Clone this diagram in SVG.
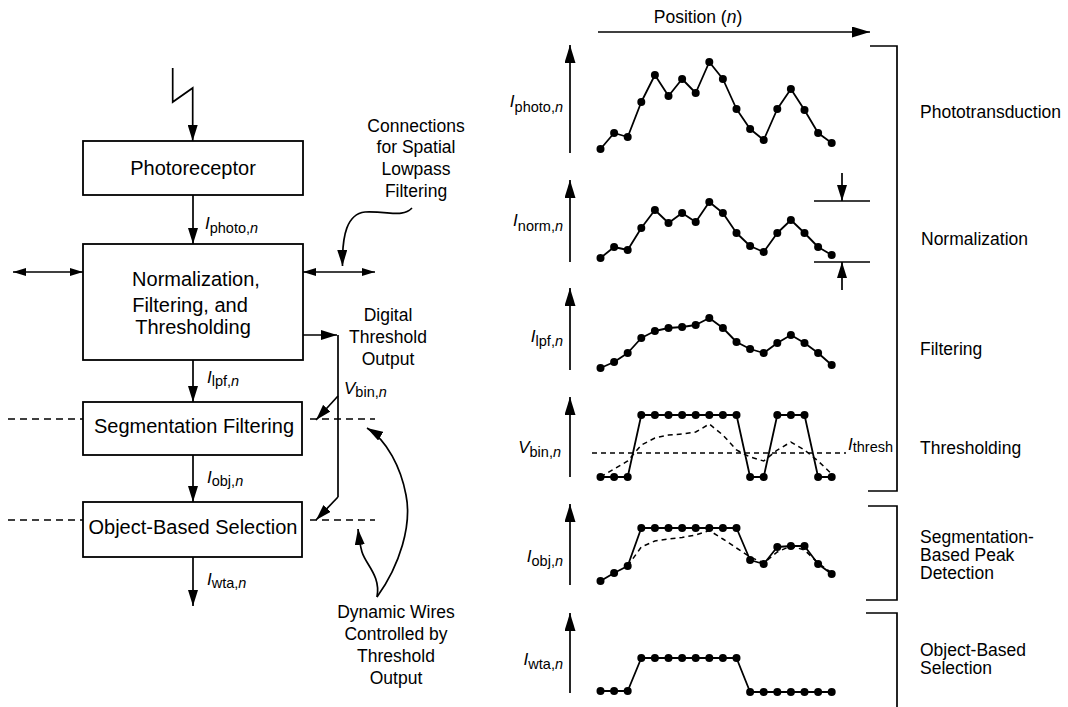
<svg xmlns="http://www.w3.org/2000/svg" width="1068" height="707" viewBox="0 0 1068 707">
<defs>
<style>
text{font-family:"Liberation Sans",Arial,Helvetica,sans-serif;fill:#000}
.bx{fill:#fff;stroke:#000;stroke-width:1.8}
.bt{font-size:20px;text-anchor:middle}
.an{font-size:17.5px;text-anchor:middle}
.rl{font-size:17.5px}
.ln{fill:none;stroke:#000;stroke-width:1.7}
.ds{fill:none;stroke:#000;stroke-width:1.5;stroke-dasharray:7 5}
.pl{fill:none;stroke:#000;stroke-width:1.8;stroke-linejoin:round}
.pd{fill:none;stroke:#000;stroke-width:1.5;stroke-dasharray:5 4}
.d{fill:#000}
.vi{font-style:italic;font-size:17px}
.sb{font-size:14.5px;font-style:normal}
.it{font-style:italic}
.ar{marker-end:url(#ah)}
.ax{marker-end:url(#big)}
.dbl{marker-start:url(#sm);marker-end:url(#sm)}
</style>
<marker id="ah" viewBox="0 0 16 10" refX="16" refY="5" markerWidth="16" markerHeight="10" markerUnits="userSpaceOnUse" orient="auto"><path d="M0,0 L16,5 L0,10 z"/></marker>
<marker id="sm" viewBox="0 0 13 8" refX="13" refY="4" markerWidth="13" markerHeight="8" markerUnits="userSpaceOnUse" orient="auto-start-reverse"><path d="M0,0 L13,4 L0,8 z"/></marker>
<marker id="big" viewBox="0 0 18 11" refX="18" refY="5.5" markerWidth="18" markerHeight="11" markerUnits="userSpaceOnUse" orient="auto"><path d="M0,0 L18,5.5 L0,11 z"/></marker>
</defs>
<rect width="1068" height="707" fill="#fff"/>

<g id="connectors">
<path class="ln ar" d="M172.7,68 V102 L192.7,88 V141"/>
<path class="ln ar" d="M193,195 V244"/>
<path class="ln ar" d="M193,360 V402"/>
<path class="ln ar" d="M193,455 V502"/>
<path class="ln ar" d="M193,557 V606"/>
<path class="ln dbl" d="M13,272 H83"/>
<path class="ln dbl" d="M303,272 H375"/>
<path class="ln ar" d="M303,335 H337"/>
<path class="ln" d="M338,335 V497"/>
<path class="ln ar" d="M338,396 L316,420"/>
<path class="ln ar" d="M338,497 L316,520"/>
<path class="ds" d="M8,419 H83 M310,419 H375 M8,520 H83 M310,520 H375"/>
<path class="ln ar" d="M412,208 C402,218 390,211 365,212 C347,214 342,235 342.5,266"/>
<path class="ln ar" d="M377,597 C400,565 412,525 406,495 C401,468 387,440 367,428"/>
<path class="ln ar" d="M377,597 C381,576 366,565 362,552 C360,545 359,538 358,529"/>
</g>

<g id="photoreceptor">
<rect class="bx" x="83" y="141" width="220" height="54"/>
<text class="bt" x="193" y="175">Photoreceptor</text>
</g>
<g id="normalization">
<rect class="bx" x="83" y="244" width="220" height="116"/>
<text class="bt" x="196" y="286">Normalization,</text>
<text class="bt" x="190" y="312">Filtering, and</text>
<text class="bt" x="193" y="334">Thresholding</text>
</g>
<g id="segmentation">
<rect class="bx" x="83" y="402" width="219" height="53"/>
<text class="bt" x="194" y="433">Segmentation Filtering</text>
</g>
<g id="objsel">
<rect class="bx" x="83" y="502" width="219" height="55"/>
<text class="bt" x="193" y="534">Object-Based Selection</text>
</g>

<g id="left-labels">
<text x="205" y="229" class="vi">I<tspan class="sb" dy="4">photo,<tspan class="it">n</tspan></tspan></text>
<text x="207" y="383" class="vi">I<tspan class="sb" dy="3">lpf,<tspan class="it">n</tspan></tspan></text>
<text x="207" y="483" class="vi">I<tspan class="sb" dy="3">obj,<tspan class="it">n</tspan></tspan></text>
<text x="207" y="585" class="vi">I<tspan class="sb" dy="3">wta,<tspan class="it">n</tspan></tspan></text>
<text x="344" y="394" class="vi">V<tspan class="sb" dy="3">bin,<tspan class="it">n</tspan></tspan></text>
</g>

<g id="note-connections">
<text class="an" x="416" y="132">Connections</text>
<text class="an" x="416" y="153">for Spatial</text>
<text class="an" x="416" y="175">Lowpass</text>
<text class="an" x="416" y="197">Filtering</text>
</g>
<g id="note-digital">
<text class="an" x="388" y="321">Digital</text>
<text class="an" x="388" y="343">Threshold</text>
<text class="an" x="388" y="365">Output</text>
</g>
<g id="note-dynamic">
<text class="an" x="396" y="618">Dynamic Wires</text>
<text class="an" x="396" y="640">Controlled by</text>
<text class="an" x="396" y="662">Threshold</text>
<text class="an" x="396" y="684">Output</text>
</g>

<g id="position-axis">
<text x="698" y="23" class="rl" text-anchor="middle">Position (<tspan class="it">n</tspan>)</text>
<path class="ln" d="M598,32 H870" marker-end="url(#big)"/>
</g>

<g id="brackets">
<path class="ln" d="M870,46 H897 V491 H868"/>
<path class="ln" d="M868,506 H897 V600 H866"/>
<path class="ln" d="M866,613 H897 V707"/>
<text class="rl" x="920" y="118">Phototransduction</text>
<text class="rl" x="921" y="245">Normalization</text>
<text class="rl" x="920" y="355">Filtering</text>
<text class="rl" x="920" y="454">Thresholding</text>
<text class="rl" x="920" y="543">Segmentation-</text>
<text class="rl" x="920" y="561">Based Peak</text>
<text class="rl" x="920" y="579">Detection</text>
<text class="rl" x="920" y="656">Object-Based</text>
<text class="rl" x="920" y="674">Selection</text>
</g>

<g id="axes">
<path class="ln ax" d="M570,153 V45"/>
<path class="ln ax" d="M570,262 V180"/>
<path class="ln ax" d="M570,370 V288"/>
<path class="ln ax" d="M570,477 V397"/>
<path class="ln ax" d="M570,585 V504"/>
<path class="ln ax" d="M570,693 V613"/>
<text x="563" y="107" class="vi" text-anchor="end">I<tspan class="sb" dy="5">photo,<tspan class="it">n</tspan></tspan></text>
<text x="563" y="226" class="vi" text-anchor="end">I<tspan class="sb" dy="5">norm,<tspan class="it">n</tspan></tspan></text>
<text x="563" y="342" class="vi" text-anchor="end">I<tspan class="sb" dy="4">lpf,<tspan class="it">n</tspan></tspan></text>
<text x="561" y="453" class="vi" text-anchor="end" font-size="19">V<tspan class="sb" dy="4">bin,<tspan class="it">n</tspan></tspan></text>
<text x="563" y="562" class="vi" text-anchor="end">I<tspan class="sb" dy="4">obj,<tspan class="it">n</tspan></tspan></text>
<text x="563" y="665" class="vi" text-anchor="end">I<tspan class="sb" dy="4">wta,<tspan class="it">n</tspan></tspan></text>
</g>

<g id="norm-markers">
<path class="ln" d="M814,201 H870 M814,262 H870"/>
<path class="ln" d="M842,173 V201" marker-end="url(#ah)"/>
<path class="ln" d="M842,290 V262" marker-end="url(#ah)"/>
</g>

<g id="plot-photo">
<polyline class="pl" points="600.5,149 614.1,133 627.7,137 641.3,102 654.9,75 668.5,96 682.1,79 695.7,93 709.3,62 722.9,79 736.5,109 750.1,129 763.7,140 777.3,109 790.9,89 804.5,110 818.1,133 831.7,143"/>
<g class="d"><circle cx="600.5" cy="149" r="4"/><circle cx="614.1" cy="133" r="4"/><circle cx="627.7" cy="137" r="4"/><circle cx="641.3" cy="102" r="4"/><circle cx="654.9" cy="75" r="4"/><circle cx="668.5" cy="96" r="4"/><circle cx="682.1" cy="79" r="4"/><circle cx="695.7" cy="93" r="4"/><circle cx="709.3" cy="62" r="4"/><circle cx="722.9" cy="79" r="4"/><circle cx="736.5" cy="109" r="4"/><circle cx="750.1" cy="129" r="4"/><circle cx="763.7" cy="140" r="4"/><circle cx="777.3" cy="109" r="4"/><circle cx="790.9" cy="89" r="4"/><circle cx="804.5" cy="110" r="4"/><circle cx="818.1" cy="133" r="4"/><circle cx="831.7" cy="143" r="4"/></g>
</g>

<g id="plot-norm">
<polyline class="pl" points="600.5,258 614.1,247 627.7,250 641.3,228 654.9,210 668.5,223 682.1,213 695.7,222 709.3,202 722.9,213 736.5,233 750.1,246 763.7,252 777.3,233 790.9,220 804.5,233 818.1,247 831.7,255"/>
<g class="d"><circle cx="600.5" cy="258" r="4"/><circle cx="614.1" cy="247" r="4"/><circle cx="627.7" cy="250" r="4"/><circle cx="641.3" cy="228" r="4"/><circle cx="654.9" cy="210" r="4"/><circle cx="668.5" cy="223" r="4"/><circle cx="682.1" cy="213" r="4"/><circle cx="695.7" cy="222" r="4"/><circle cx="709.3" cy="202" r="4"/><circle cx="722.9" cy="213" r="4"/><circle cx="736.5" cy="233" r="4"/><circle cx="750.1" cy="246" r="4"/><circle cx="763.7" cy="252" r="4"/><circle cx="777.3" cy="233" r="4"/><circle cx="790.9" cy="220" r="4"/><circle cx="804.5" cy="233" r="4"/><circle cx="818.1" cy="247" r="4"/><circle cx="831.7" cy="255" r="4"/></g>
</g>

<g id="plot-lpf">
<polyline class="pl" points="600.5,368 614.1,362 627.7,353 641.3,338 654.9,331 668.5,328 682.1,327 695.7,325 709.3,318 722.9,328 736.5,342 750.1,349 763.7,353 777.3,343 790.9,335 804.5,343 818.1,353 831.7,365"/>
<g class="d"><circle cx="600.5" cy="368" r="4"/><circle cx="614.1" cy="362" r="4"/><circle cx="627.7" cy="353" r="4"/><circle cx="641.3" cy="338" r="4"/><circle cx="654.9" cy="331" r="4"/><circle cx="668.5" cy="328" r="4"/><circle cx="682.1" cy="327" r="4"/><circle cx="695.7" cy="325" r="4"/><circle cx="709.3" cy="318" r="4"/><circle cx="722.9" cy="328" r="4"/><circle cx="736.5" cy="342" r="4"/><circle cx="750.1" cy="349" r="4"/><circle cx="763.7" cy="353" r="4"/><circle cx="777.3" cy="343" r="4"/><circle cx="790.9" cy="335" r="4"/><circle cx="804.5" cy="343" r="4"/><circle cx="818.1" cy="353" r="4"/><circle cx="831.7" cy="365" r="4"/></g>
</g>

<g id="plot-vbin">
<path class="pd" d="M592,453 H846"/>
<text x="848" y="450" class="vi" font-size="16">I<tspan class="sb" font-size="13.5" dy="2">thresh</tspan></text>
<polyline class="pd" points="600.5,477 614.1,469 627.7,461 641.3,445 654.9,438 668.5,435 682.1,434 695.7,432 709.3,424 722.9,435 736.5,450 750.1,457 763.7,461 777.3,450 790.9,442 804.5,450 818.1,461 831.7,474"/>
<polyline class="pl" points="600.5,477 614.1,477 627.7,477 641.3,415 654.9,415 668.5,415 682.1,415 695.7,415 709.3,415 722.9,415 736.5,415 750.1,477 763.7,477 777.3,415 790.9,415 804.5,415 818.1,477 831.7,477"/>
<g class="d"><circle cx="600.5" cy="477" r="4"/><circle cx="614.1" cy="477" r="4"/><circle cx="627.7" cy="477" r="4"/><circle cx="641.3" cy="415" r="4"/><circle cx="654.9" cy="415" r="4"/><circle cx="668.5" cy="415" r="4"/><circle cx="682.1" cy="415" r="4"/><circle cx="695.7" cy="415" r="4"/><circle cx="709.3" cy="415" r="4"/><circle cx="722.9" cy="415" r="4"/><circle cx="736.5" cy="415" r="4"/><circle cx="750.1" cy="477" r="4"/><circle cx="763.7" cy="477" r="4"/><circle cx="777.3" cy="415" r="4"/><circle cx="790.9" cy="415" r="4"/><circle cx="804.5" cy="415" r="4"/><circle cx="818.1" cy="477" r="4"/><circle cx="831.7" cy="477" r="4"/></g>
</g>

<g id="plot-obj">
<polyline class="pd" points="627.7,566 641.3,547 654.9,541 668.5,539 682.1,537.5 695.7,535 709.3,530.5 722.9,539 736.5,548 750.1,557 763.7,563 777.3,552 790.9,546 804.5,550 818.1,563 831.7,573"/>
<polyline class="pl" points="600.5,581 614.1,573 627.7,566 641.3,528 654.9,528 668.5,528 682.1,528 695.7,528 709.3,528 722.9,528 736.5,528 750.1,560 763.7,564 777.3,547 790.9,546 804.5,546 818.1,564 831.7,574"/>
<g class="d"><circle cx="600.5" cy="581" r="4"/><circle cx="614.1" cy="573" r="4"/><circle cx="627.7" cy="566" r="4"/><circle cx="641.3" cy="528" r="4"/><circle cx="654.9" cy="528" r="4"/><circle cx="668.5" cy="528" r="4"/><circle cx="682.1" cy="528" r="4"/><circle cx="695.7" cy="528" r="4"/><circle cx="709.3" cy="528" r="4"/><circle cx="722.9" cy="528" r="4"/><circle cx="736.5" cy="528" r="4"/><circle cx="750.1" cy="560" r="4"/><circle cx="763.7" cy="564" r="4"/><circle cx="777.3" cy="547" r="4"/><circle cx="790.9" cy="546" r="4"/><circle cx="804.5" cy="546" r="4"/><circle cx="818.1" cy="564" r="4"/><circle cx="831.7" cy="574" r="4"/></g>
</g>

<g id="plot-wta">
<polyline class="pl" points="600.5,691 614.1,691 627.7,691 641.3,658 654.9,658 668.5,658 682.1,658 695.7,658 709.3,658 722.9,658 736.5,658 750.1,692 763.7,692 777.3,692 790.9,692 804.5,692 818.1,692 831.7,692"/>
<g class="d"><circle cx="600.5" cy="691" r="4"/><circle cx="614.1" cy="691" r="4"/><circle cx="627.7" cy="691" r="4"/><circle cx="641.3" cy="658" r="4"/><circle cx="654.9" cy="658" r="4"/><circle cx="668.5" cy="658" r="4"/><circle cx="682.1" cy="658" r="4"/><circle cx="695.7" cy="658" r="4"/><circle cx="709.3" cy="658" r="4"/><circle cx="722.9" cy="658" r="4"/><circle cx="736.5" cy="658" r="4"/><circle cx="750.1" cy="692" r="4"/><circle cx="763.7" cy="692" r="4"/><circle cx="777.3" cy="692" r="4"/><circle cx="790.9" cy="692" r="4"/><circle cx="804.5" cy="692" r="4"/><circle cx="818.1" cy="692" r="4"/><circle cx="831.7" cy="692" r="4"/></g>
</g>
</svg>
